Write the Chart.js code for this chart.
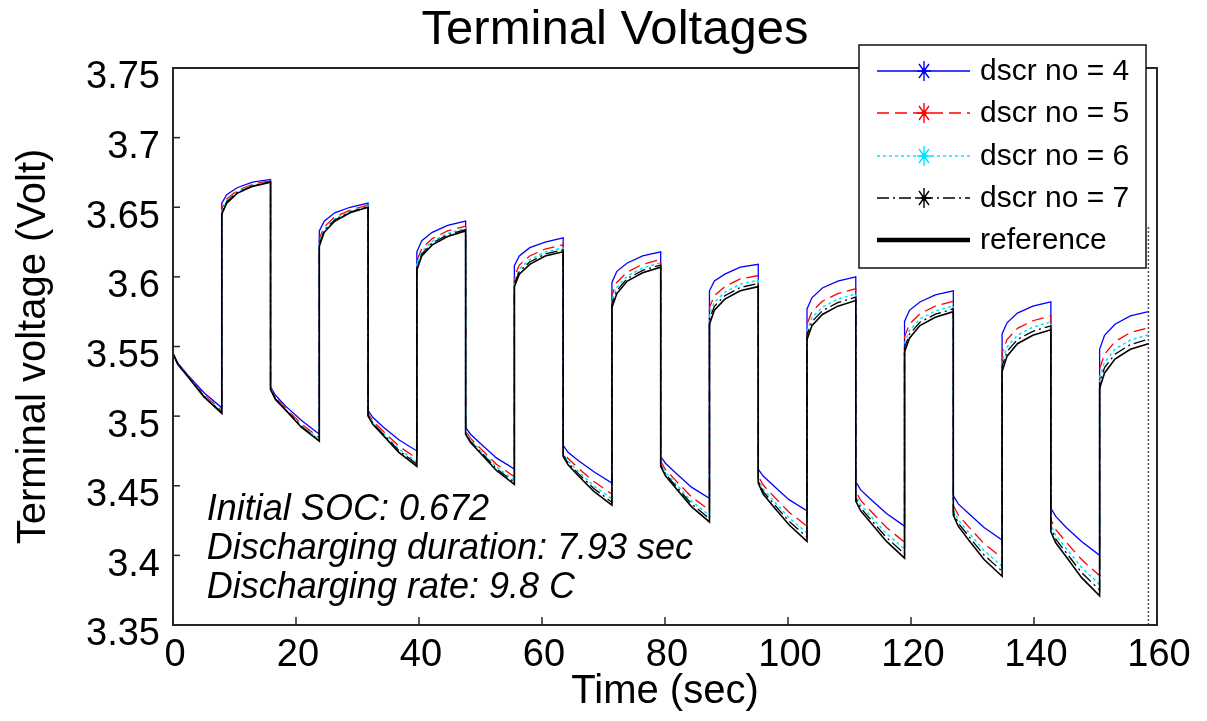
<!DOCTYPE html>
<html>
<head>
<meta charset="utf-8">
<script src="https://cdn.jsdelivr.net/npm/chart.js@4.4.0/dist/chart.umd.min.js"></script>
<style>
html,body{margin:0;padding:0;background:#fff;}
canvas{display:block;}
</style>
</head>
<body>
<canvas id="c" width="1207" height="721"></canvas>
<script>
const FONT = "'Liberation Sans', Arial, Helvetica, sans-serif";

// time samples (sec)
const timeSec = [
  0, 0.8, 2.5, 5, 7.93,
  7.93, 8.73, 10.43, 12.93, 15.86,
  15.86, 16.66, 18.36, 20.86, 23.79,
  23.79, 24.59, 26.29, 28.79, 31.72,
  31.72, 32.52, 34.22, 36.72, 39.65,
  39.65, 40.45, 42.15, 44.65, 47.58,
  47.58, 48.38, 50.08, 52.58, 55.51,
  55.51, 56.31, 58.01, 60.51, 63.44,
  63.44, 64.24, 65.94, 68.44, 71.37,
  71.37, 72.17, 73.87, 76.37, 79.3,
  79.3, 80.1, 81.8, 84.3, 87.23,
  87.23, 88.03, 89.73, 92.23, 95.16,
  95.16, 95.96, 97.66, 100.16, 103.09,
  103.09, 103.89, 105.59, 108.09, 111.02,
  111.02, 111.82, 113.52, 116.02, 118.95,
  118.95, 119.75, 121.45, 123.95, 126.88,
  126.88, 127.68, 129.38, 131.88, 134.81,
  134.81, 135.61, 137.31, 139.81, 142.74,
  142.74, 143.54, 145.24, 147.74, 150.67,
  150.67, 151.47, 153.17, 155.67, 158.6
];

const dscr4 = [
  3.545, 3.538, 3.529, 3.517, 3.506,
  3.653, 3.659, 3.664, 3.668, 3.670,
  3.521, 3.515, 3.507, 3.497, 3.487,
  3.633, 3.640, 3.646, 3.650, 3.653,
  3.504, 3.499, 3.492, 3.483, 3.475,
  3.618, 3.626, 3.632, 3.637, 3.640,
  3.492, 3.487, 3.480, 3.470, 3.462,
  3.608, 3.615, 3.621, 3.625, 3.628,
  3.479, 3.474, 3.468, 3.460, 3.452,
  3.596, 3.604, 3.610, 3.615, 3.618,
  3.471, 3.466, 3.459, 3.449, 3.441,
  3.590, 3.597, 3.602, 3.607, 3.609,
  3.462, 3.457, 3.450, 3.440, 3.432,
  3.577, 3.585, 3.592, 3.597, 3.600,
  3.453, 3.447, 3.440, 3.430, 3.421,
  3.568, 3.576, 3.582, 3.587, 3.590,
  3.443, 3.437, 3.430, 3.420, 3.411,
  3.559, 3.567, 3.574, 3.579, 3.582,
  3.434, 3.428, 3.420, 3.410, 3.400,
  3.548, 3.558, 3.566, 3.572, 3.575
];

const dscr5 = [
  3.545, 3.5375, 3.5285, 3.5155, 3.504,
  3.649, 3.656, 3.662, 3.6665, 3.669,
  3.520, 3.5135, 3.5055, 3.4945, 3.4845,
  3.6275, 3.636, 3.643, 3.648, 3.6515,
  3.502, 3.4965, 3.489, 3.4785, 3.4695,
  3.6115, 3.6205, 3.6275, 3.633, 3.6365,
  3.4895, 3.484, 3.4765, 3.4655, 3.4565,
  3.6005, 3.6085, 3.615, 3.620, 3.623,
  3.475, 3.4695, 3.4625, 3.453, 3.444,
  3.587, 3.596, 3.6035, 3.609, 3.6125,
  3.4675, 3.4615, 3.4535, 3.442, 3.4325,
  3.578, 3.5865, 3.593, 3.5985, 3.601,
  3.457, 3.4505, 3.4425, 3.431, 3.421,
  3.566, 3.575, 3.5825, 3.588, 3.5915,
  3.446, 3.4395, 3.4315, 3.420, 3.4095,
  3.557, 3.566, 3.5735, 3.579, 3.5825,
  3.436, 3.429, 3.4205, 3.4085, 3.398,
  3.5455, 3.555, 3.563, 3.5685, 3.572,
  3.4255, 3.4185, 3.4095, 3.397, 3.3855,
  3.534, 3.5445, 3.5535, 3.560, 3.5635
];

const dscr6 = [
  3.545, 3.5373, 3.5283, 3.5148, 3.5031,
  3.6472, 3.6547, 3.6611, 3.6658, 3.6686,
  3.5196, 3.5128, 3.5048, 3.4934, 3.4834,
  3.6251, 3.6342, 3.6417, 3.6471, 3.6508,
  3.5011, 3.4954, 3.4877, 3.4765, 3.4671,
  3.6086, 3.6181, 3.6255, 3.6312, 3.635,
  3.4884, 3.4827, 3.475, 3.4635, 3.4541,
  3.5972, 3.6056, 3.6124, 3.6178, 3.6208,
  3.4732, 3.4675, 3.4601, 3.4499, 3.4405,
  3.583, 3.5925, 3.6006, 3.6064, 3.6101,
  3.466, 3.4595, 3.4511, 3.4389, 3.4288,
  3.5727, 3.5819, 3.589, 3.5948, 3.5975,
  3.4548, 3.4476, 3.4392, 3.427, 3.4162,
  3.5612, 3.5706, 3.5783, 3.584, 3.5878,
  3.4429, 3.4362, 3.4278, 3.4156, 3.4044,
  3.5522, 3.5616, 3.5698, 3.5755, 3.5792,
  3.4329, 3.4255, 3.4163, 3.4034, 3.3923,
  3.5396, 3.5497, 3.5582, 3.5639, 3.5676,
  3.4218, 3.4143, 3.4049, 3.3913, 3.3791,
  3.5278, 3.5386, 3.548, 3.5547, 3.5584
];

const dscr7 = [
  3.545, 3.5371, 3.5281, 3.5144, 3.5026,
  3.6461, 3.6538, 3.6606, 3.6654, 3.6683,
  3.5193, 3.5124, 3.5044, 3.4927, 3.4827,
  3.6235, 3.6331, 3.6408, 3.6466, 3.6504,
  3.5006, 3.4947, 3.4868, 3.4753, 3.4655,
  3.6068, 3.6165, 3.6243, 3.6301, 3.634,
  3.4877, 3.4818, 3.474, 3.4623, 3.4525,
  3.5951, 3.6038, 3.6107, 3.6164, 3.6194,
  3.4721, 3.4663, 3.4585, 3.448, 3.4382,
  3.5805, 3.5902, 3.5988, 3.6047, 3.6085,
  3.465, 3.4583, 3.4495, 3.437, 3.4264,
  3.5694, 3.5789, 3.5865, 3.5924, 3.5952,
  3.4534, 3.4458, 3.4371, 3.4245, 3.4131,
  3.5581, 3.5678, 3.5757, 3.5815, 3.5854,
  3.441, 3.4341, 3.4254, 3.4128, 3.4012,
  3.5491, 3.5588, 3.5674, 3.5732, 3.5771,
  3.431, 3.4232, 3.4137, 3.4002, 3.3886,
  3.5358, 3.5464, 3.5551, 3.5609, 3.5648,
  3.4194, 3.4117, 3.4019, 3.3876, 3.3751,
  3.5239, 3.5348, 3.5445, 3.5514, 3.5552
];

const reference = [
  3.545, 3.537, 3.528, 3.514, 3.502,
  3.645, 3.653, 3.660, 3.665, 3.668,
  3.519, 3.512, 3.504, 3.492, 3.482,
  3.622, 3.632, 3.640, 3.646, 3.650,
  3.500, 3.494, 3.486, 3.474, 3.464,
  3.605, 3.615, 3.623, 3.629, 3.633,
  3.487, 3.481, 3.473, 3.461, 3.451,
  3.593, 3.602, 3.609, 3.615, 3.618,
  3.471, 3.465, 3.457, 3.446, 3.436,
  3.578, 3.588, 3.597, 3.603, 3.607,
  3.464, 3.457, 3.448, 3.435, 3.424,
  3.566, 3.576, 3.584, 3.590, 3.593,
  3.452, 3.444, 3.435, 3.422, 3.410,
  3.555, 3.565, 3.573, 3.579, 3.583,
  3.439, 3.432, 3.423, 3.410, 3.398,
  3.546, 3.556, 3.565, 3.571, 3.575,
  3.429, 3.421, 3.411, 3.397, 3.385,
  3.532, 3.543, 3.552, 3.558, 3.562,
  3.417, 3.409, 3.399, 3.384, 3.371,
  3.520, 3.531, 3.541, 3.548, 3.552
];

// vertical dotted end line
const endLineTime = [158.6, 158.6];
const endLineVolt = [3.35, 3.637];

const xTicks = [0, 20, 40, 60, 80, 100, 120, 140, 160];
const xTickLabels = ['0', '20', '40', '60', '80', '100', '120', '140', '160'];
const yTicks = [3.35, 3.4, 3.45, 3.5, 3.55, 3.6, 3.65, 3.7, 3.75];
const yTickLabels = ['3.35', '3.4', '3.45', '3.5', '3.55', '3.6', '3.65', '3.7', '3.75'];

const chartTitle = 'Terminal Voltages';
const seriesLabels = ['dscr no = 4', 'dscr no = 5', 'dscr no = 6', 'dscr no = 7', 'reference'];
const notes = ['Initial SOC: 0.672', 'Discharging duration: 7.93 sec', 'Discharging rate: 9.8 C'];
const noteX = 5.5;
const noteY = [3.4254, 3.3974, 3.3694];

function pts(xs, ys) { return xs.map((x, i) => ({ x: x, y: ys[i] })); }

const decor = {
  id: 'decor',
  afterDatasetsDraw(chart) {
    const ctx = chart.ctx, a = chart.chartArea, xs = chart.scales.x, ys = chart.scales.y;
    ctx.save();
    // title
    ctx.fillStyle = '#000';
    ctx.font = '49px ' + FONT;
    ctx.textAlign = 'center';
    ctx.textBaseline = 'middle';
    ctx.fillText(chartTitle, 615, 30);
    // axes box
    ctx.setLineDash([]);
    ctx.strokeStyle = '#262626';
    ctx.lineWidth = 2;
    ctx.strokeRect(a.left, a.top, a.right - a.left, a.bottom - a.top);
    // inward ticks
    ctx.lineWidth = 1.5;
    xs.ticks.forEach(t => {
      const px = xs.getPixelForValue(t.value);
      ctx.beginPath(); ctx.moveTo(px, a.bottom); ctx.lineTo(px, a.bottom - 8); ctx.stroke();
    });
    ys.ticks.forEach(t => {
      const py = ys.getPixelForValue(t.value);
      ctx.beginPath(); ctx.moveTo(a.left, py); ctx.lineTo(a.left + 7, py); ctx.stroke();
    });
    // annotation text
    ctx.fillStyle = '#000';
    ctx.font = 'italic 36px ' + FONT;
    ctx.textAlign = 'left';
    ctx.textBaseline = 'alphabetic';
    notes.forEach((s, i) => ctx.fillText(s, xs.getPixelForValue(noteX), ys.getPixelForValue(noteY[i])));

    // legend
    const L = { x: 859, y: 45, w: 287, h: 223, rows: [71, 113, 156, 198, 240], l0: 877, l1: 970, mx: 924, tx: 980 };
    ctx.fillStyle = '#fff';
    ctx.fillRect(L.x, L.y, L.w, L.h);
    ctx.strokeStyle = '#111';
    ctx.lineWidth = 1.5;
    ctx.strokeRect(L.x, L.y, L.w, L.h);
    chart.data.datasets.slice(0, 5).forEach((ds, i) => {
      const yy = L.rows[i];
      ctx.strokeStyle = ds.borderColor;
      ctx.lineWidth = ds.legendWidth || ds.borderWidth;
      ctx.setLineDash(ds.borderDash || []);
      ctx.beginPath(); ctx.moveTo(L.l0, yy); ctx.lineTo(L.l1, yy); ctx.stroke();
      ctx.setLineDash([]);
      if (ds.legendMarker) {
        ctx.lineWidth = 1.4;
        ctx.beginPath();
        ctx.moveTo(L.mx, yy - 10); ctx.lineTo(L.mx, yy + 10);
        ctx.moveTo(L.mx - 7, yy); ctx.lineTo(L.mx + 7, yy);
        ctx.moveTo(L.mx - 5, yy - 7); ctx.lineTo(L.mx + 5, yy + 7);
        ctx.moveTo(L.mx + 5, yy - 7); ctx.lineTo(L.mx - 5, yy + 7);
        ctx.stroke();
        ctx.fillStyle = ds.borderColor;
        ctx.beginPath(); ctx.arc(L.mx, yy, 2.5, 0, Math.PI * 2); ctx.fill();
      }
      ctx.fillStyle = '#000';
      ctx.font = '30px ' + FONT;
      ctx.textAlign = 'left';
      ctx.textBaseline = 'middle';
      ctx.fillText(ds.label, L.tx, yy + 1);
    });
    ctx.restore();
  }
};

const common = { pointRadius: 0, tension: 0, fill: false };

new Chart(document.getElementById('c'), {
  type: 'line',
  data: {
    datasets: [
      Object.assign({ label: seriesLabels[0], data: pts(timeSec, dscr4), borderColor: '#0000ff', borderWidth: 1.3, order: 4, legendMarker: true }, common),
      Object.assign({ label: seriesLabels[1], data: pts(timeSec, dscr5), borderColor: '#ff0000', borderWidth: 1.3, borderDash: [12, 6], order: 3, legendMarker: true }, common),
      Object.assign({ label: seriesLabels[2], data: pts(timeSec, dscr6), borderColor: '#00e5ff', borderWidth: 1.5, borderDash: [3, 3], order: 2, legendMarker: true }, common),
      Object.assign({ label: seriesLabels[3], data: pts(timeSec, dscr7), borderColor: '#000000', borderWidth: 1.3, borderDash: [12, 4, 2, 4], order: 1, legendMarker: true }, common),
      Object.assign({ label: seriesLabels[4], data: pts(timeSec, reference), borderColor: '#000000', borderWidth: 1.6, legendWidth: 4.5, order: 0 }, common),
      Object.assign({ label: 'end', data: pts(endLineTime, endLineVolt), borderColor: '#555555', borderWidth: 1.6, borderDash: [2, 2], order: 5 }, common)
    ]
  },
  options: {
    responsive: false,
    animation: false,
    events: [],
    devicePixelRatio: 1,
    layout: { padding: { left: 0, right: 50, top: 68, bottom: 0 } },
    plugins: {
      legend: { display: false },
      tooltip: { enabled: false },
      title: { display: false }
    },
    scales: {
      x: {
        type: 'linear',
        min: 0, max: 160,
        afterBuildTicks: s => { s.ticks = xTicks.map(v => ({ value: v })); },
        afterFit: s => { s.height = 96; },
        grid: { display: false, drawTicks: false },
        border: { display: false },
        ticks: {
          font: { family: FONT, size: 38 }, color: '#000', padding: 8, labelOffset: 2,
          maxRotation: 0, autoSkip: false,
          callback: v => xTickLabels[xTicks.indexOf(v)]
        },
        title: {
          display: true, text: 'Time (sec)', color: '#000',
          font: { family: FONT, size: 40, lineHeight: 1.2 },
          padding: { top: 0, bottom: 5 }
        }
      },
      y: {
        type: 'linear',
        min: 3.35, max: 3.75,
        afterBuildTicks: s => { s.ticks = yTicks.map(v => ({ value: v })); },
        afterFit: s => { s.width = 173; },
        grid: { display: false, drawTicks: false },
        border: { display: false },
        ticks: {
          font: { family: FONT, size: 38 }, color: '#000', padding: 13, labelOffset: 10,
          autoSkip: false,
          callback: v => yTickLabels[yTicks.indexOf(v)]
        },
        title: {
          display: true, text: 'Terminal voltage (Volt)', color: '#000',
          font: { family: FONT, size: 40, lineHeight: 1.2 },
          padding: { top: 10, bottom: 0 }
        }
      }
    }
  },
  plugins: [decor]
});
</script>
</body>
</html>
